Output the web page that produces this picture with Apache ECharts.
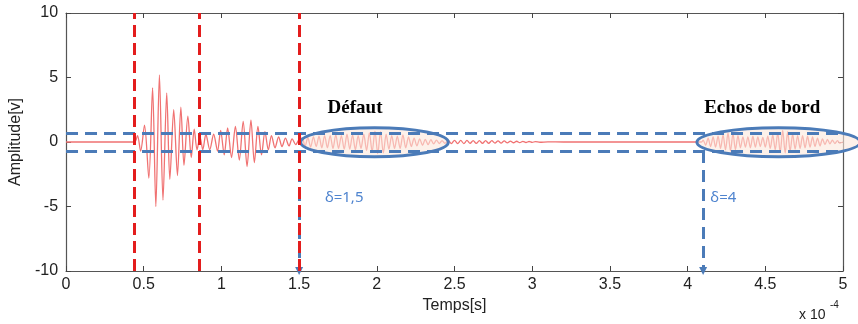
<!DOCTYPE html>
<html>
<head>
<meta charset="utf-8">
<script src="https://cdn.jsdelivr.net/npm/echarts@6/dist/echarts.min.js"></script>
<style>
  html, body { margin: 0; padding: 0; background: #fff; }
  #chart { width: 858px; height: 324px; }
</style>
</head>
<body>
<div id="chart"></div>
<script>
// signal: [time (x1e-4 s), amplitude (V)], one point per extremum
const signalPoints = [
  [0, 0], [0.44, 0], [0.46, 0.5], [0.48, -0.7], [0.505, 1.3], [0.533, -2.8], [0.557, 4.2],
  [0.578, -5.0], [0.601, 5.2], [0.624, -4.5], [0.648, 3.8], [0.668, -2.9], [0.693, 2.5],
  [0.717, -2.6], [0.739, 2.7], [0.759, -1.8], [0.784, 2.0], [0.806, -1.2], [0.825, 1.0],
  [0.843, -0.6], [0.862, 0.4],
  // second burst
  [0.88, -0.6], [0.9, 0.6], [0.925, -0.6], [0.95, 0.6], [0.975, -0.7], [0.995, 0.9],
  [1.018, -1.0], [1.04, 1.1], [1.065, -1.2], [1.09, 1.2], [1.115, -1.4], [1.14, 1.6],
  [1.165, -1.9], [1.19, 1.7], [1.212, -1.6], [1.235, 1.2], [1.258, -1.0], [1.28, 0.8],
  [1.302, -0.6], [1.322, 0.5], [1.345, -0.45], [1.368, 0.4], [1.39, -0.35], [1.412, 0.3],
  [1.435, -0.3], [1.455, 0.25], [1.478, -0.2], [1.5, 0.2],
  // defaut
  [1.52, 0.3], [1.538, -0.35], [1.556, 0.35], [1.574, -0.4], [1.592, 0.4], [1.61, -0.35],
  [1.628, 0.45], [1.646, -0.45], [1.664, 0.5], [1.682, -0.45], [1.7, 0.5], [1.718, -0.5],
  [1.736, 0.55], [1.754, -0.5], [1.772, 0.5], [1.79, -0.55], [1.808, 0.6], [1.826, -0.55],
  [1.844, 0.55], [1.862, -0.6], [1.88, 0.5], [1.898, -0.5], [1.916, 0.6], [1.934, -0.65],
  [1.952, 0.7], [1.97, -0.75], [1.988, 0.85], [2.006, -0.9], [2.024, 0.8], [2.042, -0.85],
  [2.06, 0.6], [2.078, -0.55], [2.096, 0.5], [2.114, -0.5], [2.132, 0.45], [2.15, -0.5],
  [2.168, 0.55], [2.186, -0.45], [2.204, 0.4], [2.222, -0.35], [2.24, 0.3], [2.258, -0.3],
  [2.276, 0.25], [2.294, -0.25], [2.312, 0.2], [2.33, -0.2], [2.348, 0.18], [2.366, -0.15],
  [2.384, 0.15], [2.402, -0.12], [2.42, 0.1], [2.438, -0.1],
  // petites oscillations
  [2.46, 0.12], [2.48, -0.12], [2.5, 0.13], [2.52, -0.12], [2.54, 0.12], [2.56, -0.12],
  [2.58, 0.12], [2.6, -0.11], [2.62, 0.11], [2.64, -0.11], [2.66, 0.1], [2.68, -0.1],
  [2.7, 0.1], [2.72, -0.1], [2.74, 0.1], [2.76, -0.09], [2.78, 0.09], [2.8, -0.08],
  [2.82, 0.08], [2.84, -0.07], [2.86, 0.07], [2.88, -0.06], [2.9, 0.06], [2.92, -0.05],
  [2.94, 0.05], [2.96, -0.04], [2.98, 0.04], [3.0, -0.03], [3.02, 0.03], [3.05, -0.02],
  [3.1, 0.01], [3.2, 0], [4.09, 0],
  // echos de bord
  [4.1, 0.15], [4.116, -0.25], [4.132, 0.3], [4.148, -0.35], [4.164, 0.4], [4.18, -0.4],
  [4.196, 0.45], [4.212, -0.5], [4.228, 0.55], [4.244, -0.6], [4.26, 0.7], [4.276, -0.7],
  [4.292, 0.65], [4.308, -0.6], [4.324, 0.5], [4.34, -0.45], [4.356, 0.4], [4.372, -0.4],
  [4.388, 0.4], [4.404, -0.45], [4.42, 0.45], [4.436, -0.4], [4.452, 0.4], [4.468, -0.35],
  [4.484, 0.35], [4.5, -0.4], [4.516, 0.45], [4.532, -0.5], [4.548, 0.55], [4.564, -0.6],
  [4.58, 0.7], [4.596, -0.8], [4.612, 0.9], [4.628, -0.85], [4.644, 0.8], [4.66, -0.7],
  [4.676, 0.6], [4.692, -0.55], [4.708, 0.5], [4.724, -0.5], [4.74, 0.5], [4.756, -0.45],
  [4.772, 0.45], [4.788, -0.4], [4.804, 0.4], [4.82, -0.35], [4.836, 0.3], [4.852, -0.3],
  [4.868, 0.25], [4.884, -0.2], [4.9, 0.2], [4.916, -0.15], [4.932, 0.15], [4.948, -0.12],
  [4.964, 0.1], [4.98, -0.08], [5.0, 0]
];

// red cursors (x1e-4 s)
const redCursors = [0.44, 0.86, 1.5];
// blue threshold band (V)
const thresholds = [0.7, -0.7];
// blue arrows down to the time axis
const blueArrows = [1.5, 4.1];
// circled zones: center [t, v] and half sizes [dt, dv]
const zoneCenters = [[1.985, -0.02], [4.585, -0.02]];
const zoneRadii = [[0.475, 1.12], [0.525, 1.12]];
const zoneTitles = ['Défaut', 'Echos de bord'];
const zoneTitleAt = [[1.86, 2.6], [4.48, 2.6]];
const deltaTexts = ['δ=1,5', 'δ=4'];
const deltaAt = [[1.79, -4.3], [4.23, -4.3]];

const BLUE = '#4b7bb8';
const RED = '#e31d1d';
const axisText = { fontFamily: 'Liberation Sans', fontSize: 16, color: '#222' };

const chart = echarts.init(document.getElementById('chart'), null, { renderer: 'canvas' });

const frameAxis = {
  axisLine: { show: true, onZero: false, lineStyle: { color: '#555', width: 1.2 } },
  axisTick: { show: true, inside: true, length: 5, lineStyle: { color: '#444' } },
  splitLine: { show: false }
};

chart.setOption({
  animation: false,
  grid: { left: 65, right: 15, top: 13, bottom: 53 },
  xAxis: [
    Object.assign({
      type: 'value', min: 0, max: 5, interval: 0.5,
      name: 'Temps[s]', nameLocation: 'middle', nameGap: 18,
      nameTextStyle: axisText,
      axisLabel: Object.assign({ margin: 6, formatter: v => String(v) }, axisText)
    }, frameAxis),
    Object.assign({
      type: 'value', min: 0, max: 5, interval: 0.5, position: 'top',
      axisLabel: { show: false }
    }, frameAxis)
  ],
  yAxis: [
    Object.assign({
      type: 'value', min: -10, max: 10, interval: 5,
      name: 'Amplitude[v]', nameLocation: 'middle', nameGap: 30,
      nameTextStyle: axisText,
      axisLabel: Object.assign({ margin: 8 }, axisText)
    }, frameAxis),
    Object.assign({
      type: 'value', min: -10, max: 10, interval: 5, position: 'right',
      axisLabel: { show: false }
    }, frameAxis)
  ],
  series: [
    {
      // signal
      type: 'line', data: signalPoints, symbol: 'none', smooth: 0.3, z: 2,
      lineStyle: { color: '#f07272', width: 1.3 }
    },
    {
      // ellipses de zone
      type: 'custom', z: 3, clip: false,
      data: zoneCenters.map((c, i) => [c[0], c[1], zoneRadii[i][0], zoneRadii[i][1]]),
      encode: { x: 0, y: 1 },
      renderItem(params, api) {
        const c = api.coord([api.value(0), api.value(1)]);
        const e = api.coord([api.value(0) + api.value(2), api.value(1) + api.value(3)]);
        return {
          type: 'ellipse',
          shape: { cx: c[0], cy: c[1], rx: e[0] - c[0], ry: c[1] - e[1] },
          style: { fill: 'rgba(252,232,220,0.6)', stroke: BLUE, lineWidth: 3 }
        };
      }
    },
    {
      // seuils bleus
      type: 'line', data: [], z: 4,
      markLine: {
        silent: true, symbol: 'none', label: { show: false },
        lineStyle: { color: BLUE, width: 3, type: [12, 7] },
        data: thresholds.map(v => [{ coord: [0, v] }, { coord: [5, v] }])
      }
    },
    {
      // fleches bleues
      type: 'line', data: [], z: 4,
      markLine: {
        silent: true, symbol: ['none', 'triangle'], symbolSize: 8,
        label: { show: false },
        lineStyle: { color: BLUE, width: 3, type: [12, 7] },
        data: blueArrows.map(t => [{ coord: [t, thresholds[1]] }, { coord: [t, -10] }])
      }
    },
    {
      // curseurs rouges
      type: 'line', data: [], z: 5,
      markLine: {
        silent: true, symbol: 'none', label: { show: false },
        lineStyle: { color: RED, width: 3, type: [12, 6] },
        data: redCursors.map(t => [{ coord: [t, -10] }, { coord: [t, 10] }])
      }
    },
    {
      // titres des zones
      type: 'scatter', symbolSize: 0, z: 6,
      itemStyle: { opacity: 1 },
      data: zoneTitles.map((n, i) => ({ name: n, value: zoneTitleAt[i] })),
      label: {
        show: true, position: 'inside', formatter: '{b}',
        fontFamily: 'Liberation Serif', fontWeight: 'bold', fontSize: 19, color: '#000'
      }
    },
    {
      // delta
      type: 'scatter', symbolSize: 0, z: 6,
      itemStyle: { opacity: 1 },
      data: deltaTexts.map((n, i) => ({ name: n, value: deltaAt[i] })),
      label: {
        show: true, position: 'inside', formatter: '{b}',
        fontFamily: 'Noto Sans', fontSize: 15, color: '#4f84cf'
      }
    }
  ],
  graphic: [
    { type: 'text', left: 799, top: 308, style: { text: 'x 10', font: '14px "Liberation Sans"', fill: '#222' } },
    { type: 'text', left: 830, top: 300, style: { text: '-4', font: '10px "Liberation Sans"', fill: '#222' } }
  ]
});
</script>
</body>
</html>
